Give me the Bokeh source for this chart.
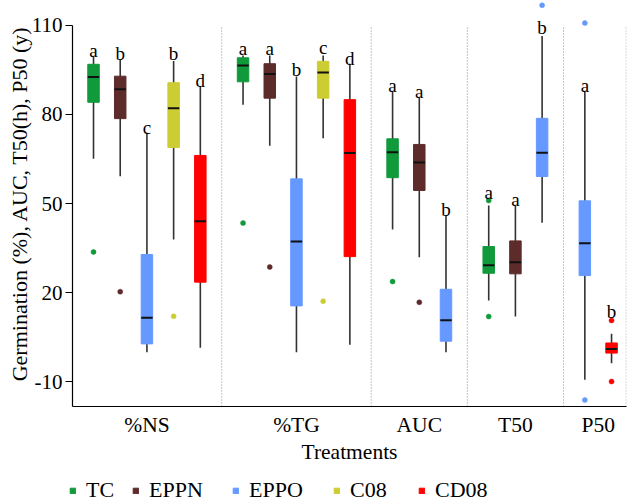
from bokeh.plotting import figure
from bokeh.layouts import column
from bokeh.models import (ColumnDataSource, Range1d, FixedTicker, Legend, LegendItem)
from bokeh.embed import file_html
from bokeh.resources import INLINE
from bokeh.core.properties import value

# ---------------- data ----------------
metrics = ["%NS", "%TG", "AUC", "T50", "P50"]
series_names = ["TC", "EPPN", "EPPO", "C08", "CD08"]
series_colors = ["#119a3b", "#5e2b2b", "#6699ff", "#cccc33", "#ff0000"]

box_metric = ["%NS"] * 5 + ["%TG"] * 5 + ["AUC"] * 3 + ["T50"] * 3 + ["P50"] * 2
box_series = ["TC", "EPPN", "EPPO", "C08", "CD08",
              "TC", "EPPN", "EPPO", "C08", "CD08",
              "TC", "EPPN", "EPPO",
              "TC", "EPPN", "EPPO",
              "EPPO", "CD08"]
whisk_lo = [65.1, 59.2, -0.1, 37.9, 1.4,
            83.3, 69.5, -0.1, 72.0, 2.4,
            41.2, 31.9, -0.1,
            17.3, 11.9, 43.5,
            -9.4, -3.8]
q1 = [84.1, 78.6, 2.7, 68.9, 23.5,
      91.0, 85.5, 15.5, 85.5, 32.1,
      58.7, 54.4, 3.6,
      26.5, 26.3, 59.1,
      25.7, -0.4]
med = [92.6, 88.5, 11.5, 82.1, 44.0,
       96.5, 93.6, 37.2, 94.1, 67.0,
       67.3, 63.8, 10.7,
       29.2, 30.2, 67.1,
       36.6, 1.0]
q3 = [96.9, 92.9, 32.8, 90.7, 66.2,
      99.1, 97.1, 58.3, 97.9, 85.0,
      71.8, 69.9, 21.1,
      35.5, 37.4, 78.7,
      50.9, 3.0]
whisk_hi = [99.6, 98.4, 73.5, 98.0, 89.4,
            99.9, 99.9, 92.8, 99.9, 97.1,
            87.9, 85.8, 46.0,
            49.3, 49.3, 106.4,
            87.9, 6.1]
letters = ["a", "b", "c", "b", "d",
           "a", "a", "b", "c", "d",
           "a", "a", "b",
           "a", "a", "b",
           "a", "b"]
letter_y = [101.6, 100.7, 75.7, 100.7, 91.5,
            102.1, 102.1, 95.2, 102.5, 98.8,
            89.8, 87.9, 48.0,
            53.8, 51.4, 109.4,
            89.8, 13.6]

out_metric = ["%NS", "%NS", "%NS", "%TG", "%TG", "%TG", "AUC", "AUC",
              "T50", "T50", "T50", "P50", "P50", "P50", "P50"]
out_series = ["TC", "EPPN", "C08", "TC", "EPPN", "C08", "TC", "EPPN",
              "TC", "TC", "EPPO", "EPPO", "EPPO", "CD08", "CD08"]
out_value = [33.7, 20.3, 12.0, 43.4, 28.6, 17.1, 23.7, 16.7,
             51.0, 11.9, 116.8, 110.8, -16.2, 10.6, -10.0]

y_ticks = [-10, 20, 50, 80, 110]
y_tick_labels = ["-10", "20", "50", "80", "110"]

# ---------------- layout helpers ----------------
GAP = 0.6
BOX_W = 0.43
X_START, X_END = 0.213, 20.96
Y_START, Y_END = -18.4, 118.4

pos = [i + 1 + GAP * metrics.index(m) for i, m in enumerate(box_metric)]
pos_of = {(m, s): x for m, s, x in zip(box_metric, box_series, pos)}
color_of = dict(zip(series_names, series_colors))
colors = [color_of[s] for s in box_series]

centers, seps = [], []
for m in metrics:
    xs = [x for x, mm in zip(pos, box_metric) if mm == m]
    centers.append(sum(xs) / len(xs))
    seps.append(min(max(xs) + 0.8, X_END - 0.01))

box_src = ColumnDataSource(dict(x=pos, lo=whisk_lo, q1=q1, med=med, q3=q3, hi=whisk_hi,
                                color=colors, letter=letters, ly=letter_y,
                                mx0=[x - BOX_W / 2 for x in pos], mx1=[x + BOX_W / 2 for x in pos]))
out_src = ColumnDataSource(dict(x=[pos_of[(m, s)] for m, s in zip(out_metric, out_series)],
                                y=out_value, color=[color_of[s] for s in out_series]))

SERIF = "Liberation Serif"

p = figure(width=630, height=467, output_backend="svg", toolbar_location=None,
           x_range=Range1d(X_START, X_END), y_range=Range1d(Y_START, Y_END),
           min_border_left=72, min_border_right=4, min_border_top=0, min_border_bottom=61)
p.frame_align = False
p.outline_line_color = None
p.grid.visible = False
p.background_fill_color = "white"
p.border_fill_color = "white"

# separators
p.segment(x0=seps, x1=seps, y0=[Y_START] * len(seps), y1=[110] * len(seps),
          line_color="#8a8a8a", line_width=1, line_dash="1 2")

# whiskers
p.segment(x0="x", x1="x", y0="lo", y1="hi", source=box_src, line_color="#333333", line_width=1.6)
# boxes
p.vbar(x="x", width=BOX_W, bottom="q1", top="q3", source=box_src,
       fill_color="color", line_color="color", line_width=1)
# medians
p.segment(x0="mx0", x1="mx1", y0="med", y1="med", source=box_src, line_color="#111111", line_width=2)
# outliers
p.scatter(x="x", y="y", source=out_src, size=5, marker="circle",
          fill_color="color", line_color="color", line_width=0.5)
# significance letters
p.text(x="x", y="ly", text="letter", source=box_src, text_align="center",
       text_baseline="alphabetic", text_font=value(SERIF), text_font_size="19px",
       text_color="black")

# axes
ya = p.yaxis[0]
ya.ticker = FixedTicker(ticks=y_ticks)
ya.major_label_overrides = dict(zip(y_ticks, y_tick_labels))
ya.bounds = (Y_START, 110)
ya.axis_line_color = "black"
ya.axis_line_width = 1.2
ya.major_tick_line_color = "black"
ya.major_tick_line_width = 1.2
ya.major_tick_out = 7
ya.major_tick_in = 0
ya.minor_tick_line_color = None
ya.major_label_standoff = 3
ya.major_label_text_font = SERIF
ya.major_label_text_font_size = "21px"
ya.major_label_text_color = "black"
ya.axis_label = "Germination (%), AUC, T50(h), P50 (y)"
ya.axis_label_standoff = -3
ya.axis_label_text_line_height = 1.0
ya.axis_label_text_font = SERIF
ya.axis_label_text_font_size = "22px"
ya.axis_label_text_font_style = "normal"
ya.axis_label_text_color = "black"

xa = p.xaxis[0]
xa.ticker = FixedTicker(ticks=centers)
xa.major_label_overrides = {c: m for c, m in zip(centers, metrics)}
xa.axis_line_color = "black"
xa.axis_line_width = 1.2
xa.major_tick_line_color = None
xa.minor_tick_line_color = None
xa.major_tick_out = 0
xa.major_tick_in = 0
xa.major_label_standoff = 6
xa.major_label_text_font = SERIF
xa.major_label_text_font_size = "21.5px"
xa.major_label_text_color = "black"
xa.axis_label = "Treatments"
xa.axis_label_standoff = 0
xa.axis_label_text_font = SERIF
xa.axis_label_text_font_size = "21.5px"
xa.axis_label_text_font_style = "normal"
xa.axis_label_text_color = "black"

# ---------------- legend strip ----------------
lf = figure(width=630, height=36, output_backend="svg", toolbar_location=None,
            x_range=Range1d(0, 1), y_range=Range1d(0, 1),
            x_axis_type=None, y_axis_type=None,
            min_border_left=0, min_border_right=0, min_border_top=0, min_border_bottom=0)
lf.frame_align = False
lf.outline_line_color = None
lf.grid.visible = False
lf.border_fill_color = "white"

legend_x = [69, 132, 232, 333, 418]
for name, col, lx in zip(series_names, series_colors, legend_x):
    # key swatch source lies outside the visible range; only its legend glyph shows
    r = lf.vbar(x=[-5], top=[-5], bottom=[-6], width=0.1, fill_color=col, line_color=col)
    lg = Legend(items=[LegendItem(label=name, renderers=[r])],
                location=(lx, 0), orientation="horizontal",
                glyph_width=7, glyph_height=7, label_standoff=10,
                label_text_font=SERIF, label_text_font_size="22px",
                label_text_color="black", padding=0, margin=0, spacing=0,
                border_line_color=None, background_fill_alpha=0)
    lf.add_layout(lg, "center")

open("out.html", "w").write(file_html(column(p, lf, spacing=0), INLINE))
